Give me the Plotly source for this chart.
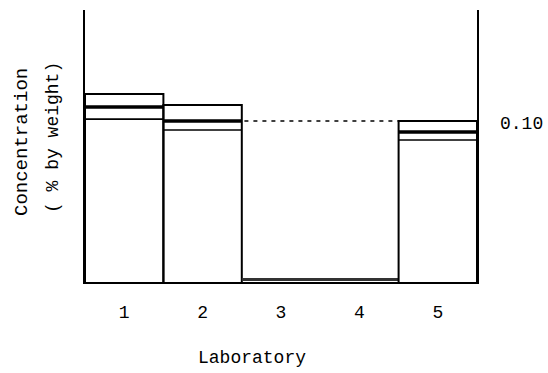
import plotly.graph_objects as go

# Data
labs = ["1", "2", "3", "4", "5"]
box_left = [0.5, 1.5, 2.5, 4.5]
box_right = [1.5, 2.5, 4.5, 5.5]
upper = [0.1168, 0.1100, 0.0015, 0.1000]
mean = [0.1087, 0.1000, 0.0015, 0.0932]
lower = [0.1012, 0.0944, 0.0015, 0.0882]
ref_value = 0.10
ref_span = [1.5, 4.5]

FONT = "Liberation Mono"
fig = go.Figure()

for i in range(len(upper)):
    x0, x1 = box_left[i], box_right[i]
    if upper[i] > 0.01:
        fig.add_trace(go.Scatter(x=[x0, x0, x1, x1], y=[0, upper[i], upper[i], 0],
                                 mode="lines", line=dict(color="black", width=2),
                                 hoverinfo="skip", showlegend=False))
        fig.add_trace(go.Scatter(x=[x0, x1], y=[mean[i], mean[i]], mode="lines",
                                 line=dict(color="black", width=3.5),
                                 hoverinfo="skip", showlegend=False))
        fig.add_trace(go.Scatter(x=[x0, x1], y=[lower[i], lower[i]], mode="lines",
                                 line=dict(color="black", width=1.6),
                                 hoverinfo="skip", showlegend=False))
    else:
        fig.add_trace(go.Scatter(x=[x0, x1], y=[mean[i], mean[i]], mode="lines",
                                 line=dict(color="#333", width=3),
                                 hoverinfo="skip", showlegend=False))

fig.add_trace(go.Scatter(x=ref_span, y=[ref_value, ref_value], mode="lines",
                         line=dict(color="black", width=1.6, dash="4px,5px"),
                         hoverinfo="skip", showlegend=False))

fig.add_annotation(x=1, xref="paper", y=ref_value, yref="y", text="0.10",
                   showarrow=False, xanchor="left", yanchor="middle", xshift=21, yshift=-3,
                   font=dict(family=FONT, size=18, color="black"))
fig.add_annotation(x=(252 - 85) / 392, xref="paper", y=(282 - 358) / 272, yref="paper",
                   text="Laboratory", showarrow=False, xanchor="center", yanchor="middle",
                   font=dict(family=FONT, size=18, color="black"))
fig.add_annotation(x=(22 - 85) / 392, xref="paper", y=(282 - 142) / 272, yref="paper",
                   text="Concentration", showarrow=False, textangle=-90,
                   xanchor="center", yanchor="middle",
                   font=dict(family=FONT, size=19, color="black"))
fig.add_annotation(x=(53 - 85) / 392, xref="paper", y=(282 - 138) / 272, yref="paper",
                   text="( % by weight)", showarrow=False, textangle=-90,
                   xanchor="center", yanchor="middle",
                   font=dict(family=FONT, size=18, color="black"))

fig.update_layout(
    width=548, height=373,
    margin=dict(l=85, r=71, t=10, b=91),
    paper_bgcolor="white", plot_bgcolor="white",
    xaxis=dict(range=[0.5, 5.5], tickvals=[1, 2, 3, 4, 5], ticktext=labs,
               showgrid=False, zeroline=False, showline=True, linecolor="black",
               linewidth=2, mirror=False, ticks="", ticklabelstandoff=12,
               tickfont=dict(family=FONT, size=18, color="black")),
    yaxis=dict(range=[0, 0.169], showgrid=False, zeroline=False, showline=True,
               linecolor="black", linewidth=2, mirror=True, showticklabels=False,
               ticks=""),
)

fig.write_html("out.html")
